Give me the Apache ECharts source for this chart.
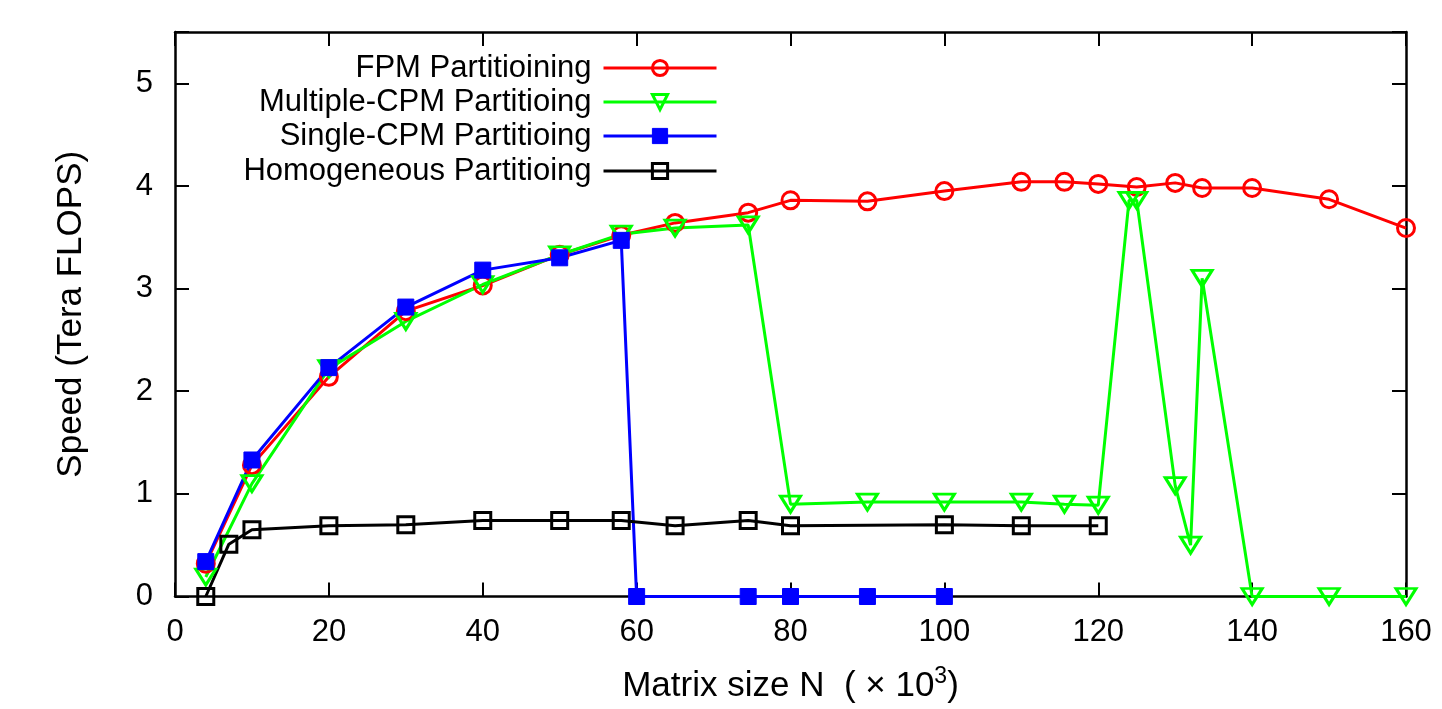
<!DOCTYPE html>
<html>
<head>
<meta charset="utf-8">
<script src="https://cdn.jsdelivr.net/npm/echarts@6/dist/echarts.min.js"></script>
<style>
  html, body { margin: 0; padding: 0; background: #fff; }
  #chart { width: 1442px; height: 709px; }
</style>
</head>
<body>
<div id="chart"></div>
<script>
// 数据
const legendNames = ["FPM Partitioining", "Multiple-CPM Partitioing", "Single-CPM Partitioing", "Homogeneous Partitioing"];

const fpmN = [4, 10, 20, 30, 40, 50, 58, 65, 74.5, 80, 90, 100, 110, 115.6, 120, 125, 130, 133.5, 140, 150, 160];
const fpmSpeed = [0.32, 1.28, 2.14, 2.78, 3.03, 3.33, 3.52, 3.64, 3.74, 3.86, 3.85, 3.95, 4.04, 4.04, 4.02, 3.99, 4.03, 3.98, 3.98, 3.87, 3.59];

const multiN = [4, 10, 20, 30, 40, 50, 58, 65, 74.5, 80, 90, 100, 110, 115.6, 120, 124, 125, 130, 132, 133.5, 140, 150, 160];
const multiSpeed = [0.19, 1.10, 2.22, 2.68, 3.04, 3.33, 3.53, 3.59, 3.62, 0.90, 0.92, 0.92, 0.92, 0.90, 0.89, 3.86, 3.86, 1.08, 0.50, 3.10, 0, 0, 0];

const singleN = [4, 10, 20, 30, 40, 50, 58, 60, 74.5, 80, 90, 100];
const singleSpeed = [0.34, 1.33, 2.23, 2.82, 3.18, 3.30, 3.47, 0, 0, 0, 0, 0];

const homoN = [4, 7, 10, 20, 30, 40, 50, 58, 65, 74.5, 80, 100, 110, 120];
const homoSpeed = [0, 0.51, 0.65, 0.69, 0.70, 0.74, 0.74, 0.74, 0.69, 0.74, 0.69, 0.70, 0.69, 0.69];

const xTicks = [0, 20, 40, 60, 80, 100, 120, 140, 160];
const yTicks = [0, 1, 2, 3, 4, 5];

const FONT = "'Liberation Sans', Arial, Helvetica, sans-serif";

function zip(xs, ys) {
  let out = [];
  for (let i in xs) {
    out.push([xs[i], ys[i]]);
  }
  return out;
}

let myChart = echarts.init(document.getElementById("chart"));

/*每个系列的样式*/
const styles = [
  {color: "#ff0000", symbol: "circle", size: 17, rotate: 0, fill: "rgba(0,0,0,0)", border: 3},
  {color: "#00ff00", symbol: "triangle", size: [20, 16], rotate: 180, fill: "rgba(0,0,0,0)", border: 3},
  {color: "#0000ff", symbol: "rect", size: 16, rotate: 0, fill: "#0000ff", border: 1},
  {color: "#000000", symbol: "rect", size: 16, rotate: 0, fill: "rgba(0,0,0,0)", border: 3},
];
const seriesData = [zip(fpmN, fpmSpeed), zip(multiN, multiSpeed), zip(singleN, singleSpeed), zip(homoN, homoSpeed)];

let series = [];
let legends = [];
const legendTops = [51, 85, 119, 154];
for (let i = 0; i < 4; i++) {
  let s = styles[i];
  series.push({
    name: legendNames[i],
    type: "line",
    data: seriesData[i],
    symbol: s.symbol,
    symbolSize: s.size,
    symbolRotate: s.rotate,
    showAllSymbol: true,
    clip: false,
    lineStyle: {color: s.color, width: 3},
    itemStyle: {color: s.fill, borderColor: s.color, borderWidth: s.border},
    emphasis: {disabled: true},
    animation: false,
  });
  legends.push({
    show: true,
    right: 724,
    top: legendTops[i],
    padding: 0,
    align: "right",
    orient: "vertical",
    itemWidth: 113,
    itemHeight: 19,
    selectedMode: false,
    textStyle: {fontFamily: FONT, fontSize: 31, color: "#000", lineHeight: 34, padding: [0, 7, 0, 0]},
    data: [{
      name: legendNames[i],
      itemStyle: {color: s.fill, borderColor: s.color, borderWidth: s.border},
      lineStyle: {color: s.color, width: 3},
    }],
  });
}

const axisLineStyle = {show: true, onZero: false, lineStyle: {color: "#000", width: 2.5}};
const tickStyle = {show: true, inside: true, length: 14, lineStyle: {color: "#000", width: 2}};

let option = {
  backgroundColor: "#fff",
  animation: false,
  grid: {left: 175, right: 36, top: 32, bottom: 109, containLabel: false},
  legend: legends,
  xAxis: [{
    type: "value",
    min: 0,
    max: 160,
    interval: 20,
    position: "bottom",
    axisLine: axisLineStyle,
    axisTick: tickStyle,
    splitLine: {show: false},
    axisLabel: {fontFamily: FONT, fontSize: 31, color: "#000", margin: 20},
    name: "{a|Matrix size N  ( × 10}{s|3}{a|)}",
    nameLocation: "middle",
    nameGap: 69,
    nameTextStyle: {
      fontFamily: FONT, fontSize: 35, color: "#000",
      rich: {
        a: {fontFamily: FONT, fontSize: 35, color: "#000", lineHeight: 42},
        s: {fontFamily: FONT, fontSize: 23, color: "#000", verticalAlign: "top"},
      },
    },
  }, {
    type: "value",
    min: 0,
    max: 160,
    interval: 20,
    position: "top",
    axisLine: axisLineStyle,
    axisTick: tickStyle,
    splitLine: {show: false},
    axisLabel: {show: false},
  }],
  yAxis: [{
    type: "value",
    min: 0,
    max: 5.5,
    interval: 1,
    position: "left",
    axisLine: axisLineStyle,
    axisTick: tickStyle,
    splitLine: {show: false},
    axisLabel: {
      fontFamily: FONT, fontSize: 31, color: "#000", margin: 22,
      formatter: function (v) { return yTicks.indexOf(v) >= 0 ? String(v) : ""; },
    },
    name: "Speed (Tera FLOPS)",
    nameLocation: "middle",
    nameGap: 86,
    nameTextStyle: {fontFamily: FONT, fontSize: 35, color: "#000"},
  }, {
    type: "value",
    min: 0,
    max: 5.5,
    interval: 1,
    position: "right",
    axisLine: axisLineStyle,
    axisTick: tickStyle,
    splitLine: {show: false},
    axisLabel: {show: false},
  }],
  series: series,
};

myChart.setOption(option);
window.onresize = myChart.resize;
</script>
</body>
</html>
